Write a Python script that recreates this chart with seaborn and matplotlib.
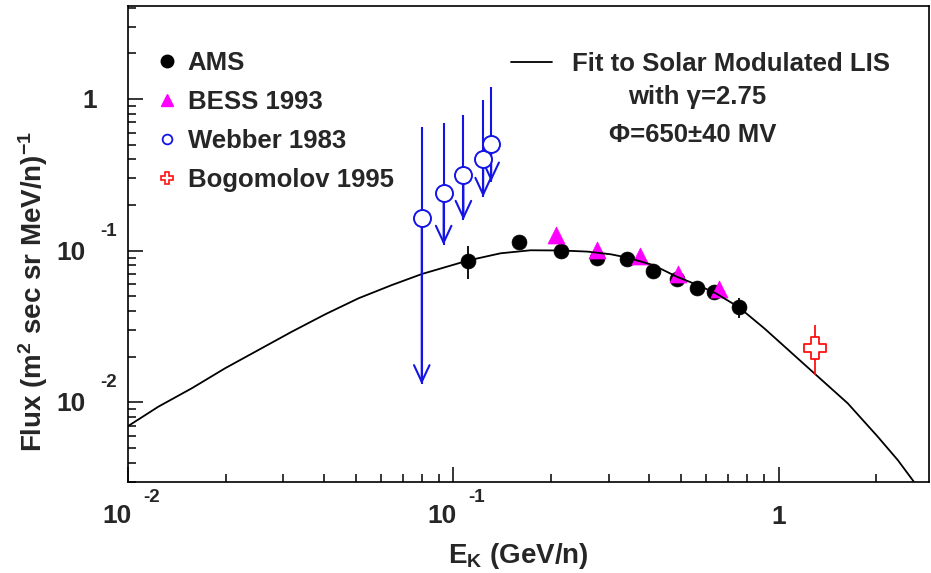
import matplotlib
matplotlib.use("Agg")
import matplotlib.pyplot as plt
from matplotlib.lines import Line2D
from matplotlib.ticker import LogLocator, NullFormatter
from matplotlib.transforms import offset_copy, blended_transform_factory
import pandas as pd
import seaborn as sns

# ---- measurements -------------------------------------------------------
ams_e = [0.1110, 0.1589, 0.2147, 0.2757, 0.3410, 0.4110, 0.4862, 0.5627, 0.6333, 0.7530]
ams_flux = [0.0859, 0.1135, 0.0999, 0.0891, 0.0877, 0.0738, 0.0647, 0.0570, 0.0536, 0.0423]
ams_err = [0.021, 0.006, 0.005, 0.005, 0.005, 0.004, 0.004, 0.004, 0.004, 0.0063]

bess_e = [0.2061, 0.2771, 0.3740, 0.4907, 0.6565]
bess_flux = [0.1268, 0.1010, 0.0922, 0.0702, 0.0559]

# Webber 1983: upper limits (circle, upper end of bar, arrow tip)
webber_e = [0.0799, 0.0933, 0.1073, 0.1234, 0.1306]
webber_flux = [0.1634, 0.2388, 0.3153, 0.4003, 0.505]
webber_top = [0.651, 0.6916, 0.7843, 0.985, 1.205]
webber_limit = [0.01314, 0.1090, 0.1592, 0.2258, 0.2849]

bogo_e = [1.296]
bogo_flux = [0.0228]
bogo_err_lo = [0.0077]
bogo_err_hi = [0.0095]

# solar-modulated LIS fit, gamma = 2.75, phi = 650 MV
fit_e = [0.0100, 0.01237, 0.01568, 0.01985, 0.02515, 0.03185, 0.04034, 0.05108,
         0.06475, 0.08006, 0.1110, 0.1396, 0.1726, 0.2147, 0.2582, 0.3045,
         0.3410, 0.4110, 0.4862, 0.5627, 0.6409, 0.7530, 0.9029, 1.0165,
         1.287, 1.631, 2.018, 2.325, 2.605]
fit_flux = [0.00698, 0.00935, 0.01237, 0.01676, 0.02213, 0.02921, 0.03803, 0.04850,
            0.05936, 0.07015, 0.0861, 0.0960, 0.1005, 0.1002, 0.0985, 0.0946,
            0.0901, 0.0804, 0.0673, 0.0594, 0.0523, 0.0425, 0.03076, 0.02449,
            0.01553, 0.00985, 0.00593, 0.00416, 0.002996]

x_ticks = [0.01, 0.1, 1.0]
x_exponents = ["-2", "-1", None]
y_ticks = [0.01, 0.1, 1.0]
y_exponents = ["-2", "-1", None]

# ---- style ---------------------------------------------------------------
sns.set_style("white")
FONT = "Liberation Sans"
plt.rcParams["font.family"] = [FONT, "DejaVu Sans"]
plt.rcParams["font.weight"] = "bold"
plt.rcParams["mathtext.fontset"] = "custom"
plt.rcParams["mathtext.rm"] = f"{FONT}:bold"
plt.rcParams["mathtext.bf"] = f"{FONT}:bold"
plt.rcParams["mathtext.it"] = f"{FONT}:bold"
plt.rcParams["mathtext.default"] = "bf"

BLUE = "#1414e6"
MAGENTA = "#ff00ff"
RED = "#ff1010"

fig = plt.figure(figsize=(9.31, 5.73), dpi=100)
ax = fig.add_axes([0.1378, 0.1588, 0.8600, 0.8307])
ax.set_xscale("log")
ax.set_yscale("log")
ax.set_xlim(0.01, 2.9)
ax.set_ylim(0.00298, 4.1)

fit_df = pd.DataFrame({"E": fit_e, "flux": fit_flux})
ams_df = pd.DataFrame({"E": ams_e, "flux": ams_flux})
bess_df = pd.DataFrame({"E": bess_e, "flux": bess_flux})
webber_df = pd.DataFrame({"E": webber_e, "flux": webber_flux})
bogo_df = pd.DataFrame({"E": bogo_e, "flux": bogo_flux})

# AMS
ax.errorbar(ams_e, ams_flux, yerr=ams_err, fmt="none", ecolor="black", elinewidth=1.3, zorder=3)
sns.scatterplot(data=ams_df, x="E", y="flux", ax=ax, marker="o", s=115, color="black",
                edgecolor="black", linewidth=0.5, legend=False, zorder=4)

# BESS 1993
sns.scatterplot(data=bess_df, x="E", y="flux", ax=ax, marker="^", s=150, color=MAGENTA,
                edgecolor=MAGENTA, linewidth=0.5, legend=False, zorder=5)

# fit curve
sns.lineplot(data=fit_df, x="E", y="flux", ax=ax, color="black", lw=1.3, sort=False,
             estimator=None, legend=False, zorder=6)

# Webber 1983 upper limits
lo = [f - l for f, l in zip(webber_flux, webber_limit)]
hi = [t - f for t, f in zip(webber_top, webber_flux)]
ax.errorbar(webber_e, webber_flux, yerr=[lo, hi], fmt="none", ecolor=BLUE, elinewidth=1.5, zorder=7)
for e, f, l in zip(webber_e, webber_flux, webber_limit):
    ax.annotate("", xy=(e, l), xytext=(e, f),
                arrowprops=dict(arrowstyle="->,head_length=0.6,head_width=0.28",
                                color=BLUE, lw=1.5, shrinkA=0, shrinkB=0, mutation_scale=20),
                zorder=7)
sns.scatterplot(data=webber_df, x="E", y="flux", ax=ax, marker="o", s=150, color="white",
                edgecolor=BLUE, linewidth=1.4, legend=False, zorder=8)

# Bogomolov 1995
ax.errorbar(bogo_e, bogo_flux, yerr=[bogo_err_lo, bogo_err_hi], fmt="none", ecolor=RED,
            elinewidth=1.3, zorder=7)
sns.scatterplot(data=bogo_df, x="E", y="flux", ax=ax, marker="P", s=260, color="white",
                edgecolor=RED, linewidth=1.3, legend=False, zorder=8)

# ---- axes frame and ticks -------------------------------------------------
for sp in ax.spines.values():
    sp.set_linewidth(1.2)
    sp.set_color("black")
ax.xaxis.set_major_locator(LogLocator(base=10, numticks=10))
ax.xaxis.set_minor_locator(LogLocator(base=10, subs=range(2, 10), numticks=20))
ax.yaxis.set_major_locator(LogLocator(base=10, numticks=10))
ax.yaxis.set_minor_locator(LogLocator(base=10, subs=range(2, 10), numticks=20))
ax.xaxis.set_major_formatter(NullFormatter())
ax.xaxis.set_minor_formatter(NullFormatter())
ax.yaxis.set_major_formatter(NullFormatter())
ax.yaxis.set_minor_formatter(NullFormatter())
ax.tick_params(which="both", direction="in", bottom=True, left=True, top=False, right=False,
               width=1.1, color="black")
ax.tick_params(which="major", length=10.5)
ax.tick_params(which="minor", length=6)

TICK_FS = 19
EXP_FS = 13.5
tx = blended_transform_factory(ax.transData, ax.transAxes)
ty = blended_transform_factory(ax.transAxes, ax.transData)
for v, ex in zip(x_ticks, x_exponents):
    if ex is None:
        ax.text(v, 0, "1", transform=offset_copy(tx, fig, x=0, y=-42, units="dots"),
                ha="center", va="baseline", fontsize=TICK_FS, fontweight="bold")
    else:
        ax.text(v, 0, "10", transform=offset_copy(tx, fig, x=3, y=-41, units="dots"),
                ha="right", va="baseline", fontsize=TICK_FS, fontweight="bold")
        ax.text(v, 0, ex, transform=offset_copy(tx, fig, x=15, y=-20, units="dots"),
                ha="left", va="baseline", fontsize=EXP_FS, fontweight="bold")
for v, ex in zip(y_ticks, y_exponents):
    if ex is None:
        ax.text(0, v, "1", transform=offset_copy(ty, fig, x=-31, y=-9, units="dots"),
                ha="right", va="baseline", fontsize=TICK_FS, fontweight="bold")
    else:
        ax.text(0, v, "10", transform=offset_copy(ty, fig, x=-43, y=-9, units="dots"),
                ha="right", va="baseline", fontsize=TICK_FS, fontweight="bold")
        ax.text(0, v, ex, transform=offset_copy(ty, fig, x=-28, y=15, units="dots"),
                ha="left", va="baseline", fontsize=EXP_FS, fontweight="bold")

ax.set_xlabel(r"E$_{\mathbf{K}}$ (GeV/n)", fontsize=20, fontweight="bold")
ax.xaxis.set_label_coords(0.487, -0.124)
ax.set_ylabel(r"Flux (m$^{\mathbf{2}}$ sec sr MeV/n)$^{\mathbf{-1}}$", fontsize=20, fontweight="bold")
ax.yaxis.set_label_coords(-0.098, 0.40)

# ---- legends --------------------------------------------------------------
LEG_FS = 18.5
handles = [
    Line2D([], [], ls="none", marker="o", color="black", ms=9),
    Line2D([], [], ls="none", marker="^", color=MAGENTA, ms=9),
    Line2D([], [], ls="none", marker="o", mfc="white", mec=BLUE, mew=1.3, ms=7),
    Line2D([], [], ls="none", marker="P", mfc="white", mec=RED, mew=1.2, ms=9),
]
labels = ["AMS", "BESS 1993", "Webber 1983", "Bogomolov 1995"]
leg1 = ax.legend(handles, labels, loc="upper left", bbox_to_anchor=(0.0196, 0.932),
                 frameon=False, borderpad=0, handlelength=0.8, handletextpad=0.4,
                 labelspacing=0.58, prop={"family": FONT, "weight": "bold", "size": LEG_FS})
ax.add_artist(leg1)
leg2 = ax.legend([Line2D([], [], color="black", lw=1.3)], ["Fit to Solar Modulated LIS"],
                 loc="upper left", bbox_to_anchor=(0.4617, 0.930), frameon=False,
                 borderpad=0, handlelength=1.6, handletextpad=0.8,
                 prop={"family": FONT, "weight": "bold", "size": LEG_FS})
ax.text(0.710, 0.809, "with \u03b3=2.75", transform=ax.transAxes, ha="center", va="center",
        fontsize=LEG_FS, fontweight="bold")
ax.text(0.7053, 0.729, "\u03a6=650\u00b140 MV", transform=ax.transAxes, ha="center", va="center",
        fontsize=LEG_FS, fontweight="bold")

fig.savefig("out.png", dpi=100)
